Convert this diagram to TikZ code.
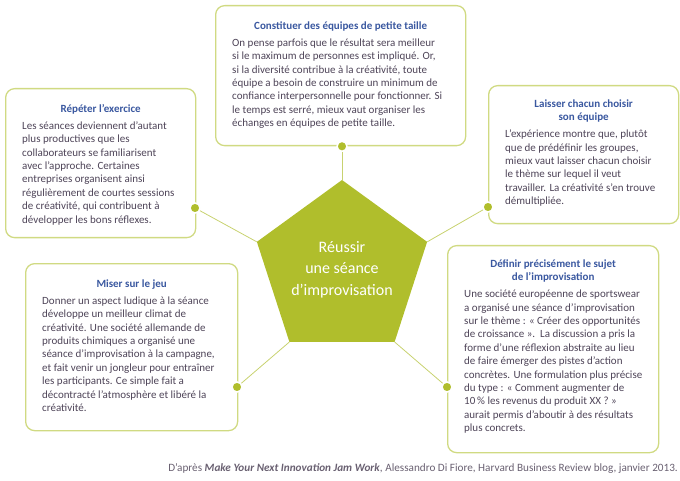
\documentclass[tikz,border=0pt]{standalone}
\usepackage{fontspec}
\setmainfont{Carlito}
\usepackage{xcolor}
\usepackage{tikz}
\usetikzlibrary{shapes.geometric, positioning}
\definecolor{leaf}{RGB}{176,190,44}
\definecolor{rim}{RGB}{208,218,130}
\definecolor{stem}{RGB}{200,210,112}
\definecolor{ink}{RGB}{58,88,160}
\definecolor{prose}{RGB}{78,68,88}

\begin{document}
\begin{tikzpicture}[x=1pt, y=1pt, node distance=15pt,
  card/.style={draw=rim, line width=1.3pt, rounded corners=9pt, fill=white, anchor=north west, inner sep=0},
  head/.style={text=ink, font=\bfseries\fontsize{11}{12.7}\selectfont, align=center, inner sep=0,
    execute at begin node={\rule{0pt}{9pt}}, execute at end node={\rule[-3pt]{0pt}{3pt}}},
  copy/.style={text=prose, font=\fontsize{11}{13.4}\selectfont, align=left, inner sep=0, anchor=north west,
    xshift=17pt, yshift=-6pt, execute at begin node={\rule{0pt}{9pt}}},
  core/.style={regular polygon, regular polygon sides=5, minimum size=179pt, inner sep=0, fill=leaf,
    text=white, font=\fontsize{16}{21.5}\selectfont, align=center},
  dot/.style={circle, fill=leaf, draw=white, line width=1.5pt, minimum size=10pt, inner sep=0},
  stem/.style={draw=stem, line width=0.8pt}]
\useasboundingbox (0,0) rectangle (680,-481);
\node[core] (hub) at (342,-269.5) {Réussir\\une séance\\d'improvisation};
\node[card, minimum width=250pt, minimum height=140pt] (team) at (215,-5) {};
\node[card, minimum width=190pt, minimum height=149pt] (repeat) at (5,-88) {};
\node[card, minimum width=190pt, minimum height=138pt] (choose) at (488,-85) {};
\node[card, minimum width=212pt, minimum height=167pt] (game) at (25,-263) {};
\node[card, minimum width=211pt, minimum height=207pt] (subject) at (447,-245) {};
\node[head, below=of team.north] (team-head) {Constituer des équipes de petite taille};
\node[copy] (team-text) at (team-head.south -| team.west) {On pense parfois que le résultat sera meilleur\\
  si le maximum de personnes est impliqué. Or,\\si la diversité contribue à la créativité, toute\\
  équipe a besoin de construire un minimum de\\confiance interpersonnelle pour fonctionner. Si\\
  le temps est serré, mieux vaut organiser les\\échanges en équipes de petite taille.};
\node[head, below=of repeat.north] (repeat-head) {Répéter l'exercice};
\node[copy] (repeat-text) at (repeat-head.south -| repeat.west) {Les séances deviennent d'autant\\
  plus productives que les\\collaborateurs se familiarisent\\avec l'approche. Certaines\\
  entreprises organisent ainsi\\régulièrement de courtes sessions\\de créativité, qui contribuent à\\
  développer les bons réflexes.};
\node[head, below=of choose.north] (choose-head) {Laisser chacun choisir\\son équipe};
\node[copy] (choose-text) at (choose-head.south -| choose.west) {L'expérience montre que, plutôt\\
  que de prédéfinir les groupes,\\mieux vaut laisser chacun choisir\\le thème sur lequel il veut\\
  travailler. La créativité s'en trouve\\démultipliée.};
\node[head, below=of game.north] (game-head) {Miser sur le jeu};
\node[copy] (game-text) at (game-head.south -| game.west) {Donner un aspect ludique à la séance\\
  développe un meilleur climat de\\créativité. Une société allemande de\\produits chimiques a organisé une\\
  séance d'improvisation à la campagne,\\et fait venir un jongleur pour entraîner\\
  les participants. Ce simple fait a\\décontracté l'atmosphère et libéré la\\créativité.};
\node[head, below=of subject.north] (subject-head) {Définir précisément le sujet\\de l'improvisation};
\node[copy] (subject-text) at (subject-head.south -| subject.west) {Une société européenne de sportswear\\
  a organisé une séance d'improvisation\\sur le thème~: «~Créer des opportunités\\
  de croissance~».\ \ La discussion a pris la\\forme d'une réflexion abstraite au lieu\\
  de faire émerger des pistes d'action\\concrètes. Une formulation plus précise\\
  du type~: «~Comment augmenter de\\10\,\% les revenus du produit XX~?~»\\
  aurait permis d'aboutir à des résultats\\plus concrets.};
\node[dot] (team-dot) at (hub.corner 1 |- team.south) {};
\node[dot] (repeat-dot) at (195,-208) {};
\node[dot] (choose-dot) at (488,-207) {};
\node[dot] (game-dot) at (237,-387) {};
\node[dot] (subject-dot) at (447,-387) {};
\draw[stem] (hub.corner 1) -- (team-dot);
\draw[stem] (hub.corner 2) -- (repeat-dot);
\draw[stem] (hub.corner 5) -- (choose-dot);
\draw[stem] (hub.corner 3) -- (game-dot);
\draw[stem] (hub.corner 4) -- (subject-dot);
\node[anchor=base east, inner sep=0, text=prose!85!white, font=\fontsize{11.2}{13}\selectfont] (source) at (678,-471)
  {D'après \textbf{\textit{Make Your Next Innovation Jam Work}}, Alessandro Di Fiore, Harvard Business Review blog, janvier 2013.};
\end{tikzpicture}
\end{document}
